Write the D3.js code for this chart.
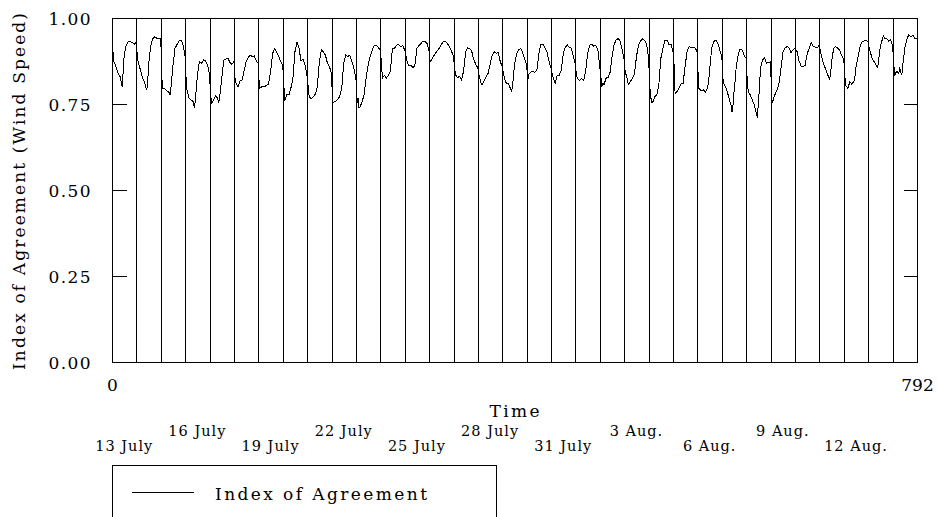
<!DOCTYPE html>
<html>
<head>
<meta charset="utf-8">
<script src="https://cdn.jsdelivr.net/npm/d3@7"></script>
<style>
  html, body { margin: 0; padding: 0; background: #fff; }
  svg { display: block; }
  text { font-family: "DejaVu Serif", "Liberation Serif", serif; fill: #000; }
</style>
</head>
<body>
<svg id="chart" width="937" height="517"></svg>
<script>
// ---- data ----
const totalHours = 792;
const yTicks = [0, 0.25, 0.5, 0.75, 1.0];
const xTickValues = [0, 792];
const dateLabels = ["13 July", "16 July", "19 July", "22 July", "25 July", "28 July",
                    "31 July", "3 Aug.", "6 Aug.", "9 Aug.", "12 Aug."];
const dateLabelDays = [0, 3, 6, 9, 12, 15, 18, 21, 24, 27, 30];
const seriesName = "Index of Agreement";
// hourly Index of Agreement readings per day: [hour of day, value]
const ioaDays = [
 [[0,.931],[2,.873],[4,.858],[6,.839],[8,.829],[10,.800],[11,.844],[12,.892],[14,.921],[16,.931],[18,.931],[20,.929],[22,.923]],
 [[0,.933],[1,.883],[2,.868],[4,.849],[6,.825],[8,.815],[10,.791],[11,.805],[12,.863],[14,.917],[16,.939],[18,.946],[20,.941],[22,.941]],
 [[0,.941],[1,.825],[2,.796],[4,.794],[6,.788],[8,.784],[9,.776],[10,.796],[12,.863],[14,.912],[16,.923],[18,.933],[20,.936],[22,.921]],
 [[0,.888],[1,.815],[2,.786],[4,.766],[6,.761],[8,.757],[9,.739],[10,.761],[12,.834],[14,.873],[16,.868],[18,.878],[20,.875],[22,.863]],
 [[0,.834],[1,.776],[2,.752],[4,.761],[6,.774],[8,.766],[9,.754],[10,.771],[12,.825],[14,.878],[16,.881],[18,.883],[20,.871],[22,.865]],
 [[0,.873],[1,.825],[2,.810],[4,.800],[6,.817],[8,.820],[10,.848],[12,.873],[14,.885],[16,.892],[18,.888],[20,.890],[22,.875]],
 [[0,.868],[1,.795],[2,.797],[4,.802],[6,.800],[8,.805],[10,.807],[12,.844],[14,.897],[16,.910],[18,.900],[20,.888],[22,.873]],
 [[0,.863],[1,.806],[2,.759],[4,.778],[6,.776],[8,.796],[10,.825],[12,.902],[14,.929],[16,.912],[18,.875],[20,.880],[22,.863]],
 [[0,.830],[2,.770],[4,.766],[6,.771],[8,.778],[10,.800],[12,.873],[14,.907],[16,.902],[18,.892],[20,.868],[22,.858]],
 [[0,.839],[1,.752],[2,.755],[4,.757],[6,.764],[8,.771],[10,.795],[12,.868],[14,.892],[16,.888],[18,.892],[20,.873],[22,.854]],
 [[0,.825],[1,.752],[2,.768],[3,.739],[4,.742],[6,.755],[8,.778],[10,.825],[12,.863],[14,.888],[16,.907],[18,.921],[20,.920],[22,.914]],
 [[0,.907],[1,.873],[2,.825],[4,.833],[6,.825],[8,.834],[10,.846],[11,.883],[12,.912],[14,.912],[16,.921],[18,.923],[20,.917],[22,.920]],
 [[0,.907],[2,.878],[4,.861],[6,.863],[8,.856],[10,.862],[11,.888],[12,.912],[14,.920],[16,.926],[18,.933],[20,.931],[22,.926]],
 [[0,.902],[1,.873],[2,.875],[4,.887],[6,.897],[8,.904],[10,.912],[12,.923],[14,.931],[16,.931],[18,.926],[20,.917],[22,.904]],
 [[0,.888],[1,.857],[2,.834],[4,.827],[6,.830],[8,.820],[10,.848],[12,.902],[14,.913],[16,.912],[18,.902],[20,.878],[22,.865]],
 [[0,.854],[1,.834],[2,.823],[3,.811],[4,.805],[6,.817],[8,.829],[10,.839],[12,.865],[14,.892],[16,.902],[18,.897],[20,.900],[22,.873]],
 [[0,.858],[2,.825],[4,.810],[6,.810],[8,.795],[9,.788],[10,.800],[12,.863],[14,.894],[16,.907],[18,.912],[20,.900],[22,.880]],
 [[0,.863],[1,.819],[2,.836],[4,.842],[6,.846],[8,.842],[10,.848],[12,.897],[14,.924],[16,.924],[18,.912],[20,.902],[22,.873]],
 [[0,.854],[1,.839],[2,.826],[4,.811],[6,.834],[8,.834],[10,.848],[12,.897],[14,.915],[16,.922],[18,.914],[20,.912],[22,.888]],
 [[0,.863],[1,.830],[2,.825],[4,.818],[6,.825],[8,.818],[10,.844],[12,.897],[14,.921],[16,.924],[18,.918],[20,.920],[22,.907]],
 [[0,.854],[1,.830],[2,.803],[3,.810],[4,.805],[6,.825],[8,.827],[10,.842],[12,.888],[14,.923],[16,.936],[18,.941],[20,.933],[22,.907]],
 [[0,.878],[1,.839],[2,.834],[4,.807],[6,.815],[8,.825],[10,.836],[12,.888],[14,.921],[16,.933],[18,.939],[20,.935],[22,.923]],
 [[0,.883],[1,.805],[2,.771],[3,.755],[4,.755],[6,.771],[8,.776],[10,.805],[12,.883],[14,.912],[16,.936],[18,.936],[20,.923],[22,.923]],
 [[0,.902],[1,.863],[2,.781],[4,.786],[6,.797],[8,.810],[10,.810],[11,.839],[12,.863],[14,.907],[16,.917],[18,.914],[20,.914],[22,.912]],
 [[0,.900],[1,.796],[2,.794],[4,.788],[6,.791],[8,.784],[10,.797],[11,.815],[12,.848],[14,.912],[16,.931],[18,.936],[20,.926],[22,.907]],
 [[0,.888],[1,.825],[2,.810],[4,.797],[6,.778],[8,.757],[9,.747],[10,.728],[11,.747],[12,.786],[13,.815],[14,.853],[16,.892],[18,.910],[20,.907],[22,.890]],
 [[0,.883],[1,.815],[2,.786],[4,.776],[6,.761],[8,.747],[9,.734],[10,.723],[11,.710],[12,.757],[13,.796],[14,.853],[16,.878],[18,.885],[20,.868],[22,.871]],
 [[0,.873],[1,.751],[2,.757],[4,.776],[6,.788],[8,.805],[10,.848],[12,.900],[14,.912],[16,.917],[18,.914],[20,.900],[22,.907]],
 [[0,.912],[2,.902],[4,.875],[6,.860],[8,.858],[10,.863],[12,.897],[14,.912],[16,.929],[18,.917],[20,.915],[22,.914]],
 [[0,.921],[1,.902],[2,.890],[4,.866],[6,.853],[8,.836],[10,.823],[11,.839],[12,.873],[14,.912],[16,.917],[18,.912],[20,.907],[22,.890]],
 [[0,.878],[1,.829],[2,.803],[4,.796],[6,.815],[8,.807],[10,.817],[11,.830],[12,.858],[14,.888],[16,.917],[18,.931],[20,.933],[22,.935]],
 [[0,.931],[1,.912],[2,.902],[4,.880],[6,.873],[8,.861],[9,.858],[10,.868],[11,.897],[12,.917],[14,.939],[15,.948],[16,.941],[18,.941],[20,.933],[22,.936]],
 [[0,.921],[1,.873],[2,.834],[4,.845],[6,.839],[7,.853],[8,.844],[9,.834],[10,.863],[11,.888],[12,.912],[14,.939],[16,.951],[18,.946],[20,.949],[22,.941],[24,.941]]
];

// ---- layout ----
const svg = d3.select("#chart");
const pL = 112, pR = 917, pT = 18, pB = 362;
const x = d3.scaleLinear().domain([0, totalHours]).range([pL, pR]);
const y = d3.scaleLinear().domain([0, 1]).range([pB, pT]);
const font = 17;

const points = ioaDays.flatMap((day, d) => day.map(([h, v]) => ({ t: d * 24 + h, v })));

// day separator lines
const dayBounds = d3.range(1, ioaDays.length);
svg.append("g").selectAll("line").data(dayBounds).join("line")
  .attr("x1", d => Math.round(x(d * 24)) + 0.5).attr("x2", d => Math.round(x(d * 24)) + 0.5)
  .attr("y1", pT).attr("y2", pB)
  .attr("stroke", "#000").attr("stroke-width", 1).attr("shape-rendering", "crispEdges");

// data line
svg.append("path").datum(points)
  .attr("fill", "none").attr("stroke", "#000").attr("stroke-width", 1)
  .attr("shape-rendering", "crispEdges")
  .attr("d", d3.line().x(d => x(d.t)).y(d => y(d.v)));

// frame
svg.append("rect").attr("x", pL + 0.5).attr("y", pT + 0.5)
  .attr("width", pR - pL).attr("height", pB - pT)
  .attr("fill", "none").attr("stroke", "#000").attr("shape-rendering", "crispEdges");

// left axis
const yAxisL = svg.append("g").attr("transform", `translate(${pL + 0.5},0)`)
  .call(d3.axisLeft(y).tickValues(yTicks).tickFormat(d3.format(".2f")).tickSize(-14).tickPadding(22));
yAxisL.select(".domain").remove();
yAxisL.selectAll("line").attr("stroke", "#000").attr("shape-rendering", "crispEdges");
yAxisL.selectAll("text").attr("font-size", font).attr("font-family", "DejaVu Serif")
  .attr("dy", "0.36em").attr("textLength", 42).attr("lengthAdjust", "spacing");

// right axis
const yAxisR = svg.append("g").attr("transform", `translate(${pR + 0.5},0)`)
  .call(d3.axisRight(y).tickValues(yTicks).tickFormat("").tickSize(-14));
yAxisR.select(".domain").remove();
yAxisR.selectAll("line").attr("stroke", "#000").attr("shape-rendering", "crispEdges");

// bottom axis labels
const xAxis = svg.append("g").attr("transform", `translate(0,${pB})`)
  .call(d3.axisBottom(x).tickValues(xTickValues).tickSize(0).tickPadding(17));
xAxis.select(".domain").remove();
xAxis.selectAll("text").attr("font-size", font).attr("font-family", "DejaVu Serif");

// axis titles
svg.append("text").attr("x", (pL + pR) / 2).attr("y", 417)
  .attr("text-anchor", "middle").attr("font-size", font)
  .attr("textLength", 50).attr("lengthAdjust", "spacing").text("Time");

svg.append("text").attr("transform", "translate(25,191.5) rotate(-90)")
  .attr("text-anchor", "middle").attr("font-size", font)
  .attr("textLength", 357).attr("lengthAdjust", "spacing")
  .text("Index of Agreement (Wind Speed)");

// date labels (staggered)
svg.append("g").selectAll("text").data(dateLabels).join("text")
  .attr("x", (d, i) => x(dateLabelDays[i] * 24 + 12))
  .attr("y", (d, i) => i % 2 === 0 ? 450.5 : 435.5)
  .attr("text-anchor", "middle").attr("font-size", 14.5)
  .attr("letter-spacing", 1)
  .text(d => d);

// legend
svg.append("rect").attr("x", 112.5).attr("y", 465.5).attr("width", 384).attr("height", 80)
  .attr("fill", "none").attr("stroke", "#000").attr("shape-rendering", "crispEdges");
svg.append("line").attr("x1", 132).attr("x2", 194).attr("y1", 492.5).attr("y2", 492.5)
  .attr("stroke", "#000").attr("shape-rendering", "crispEdges");
svg.append("text").attr("x", 215).attr("y", 499.5).attr("font-size", font)
  .attr("textLength", 212).attr("lengthAdjust", "spacing").text(seriesName);
</script>
</body>
</html>
